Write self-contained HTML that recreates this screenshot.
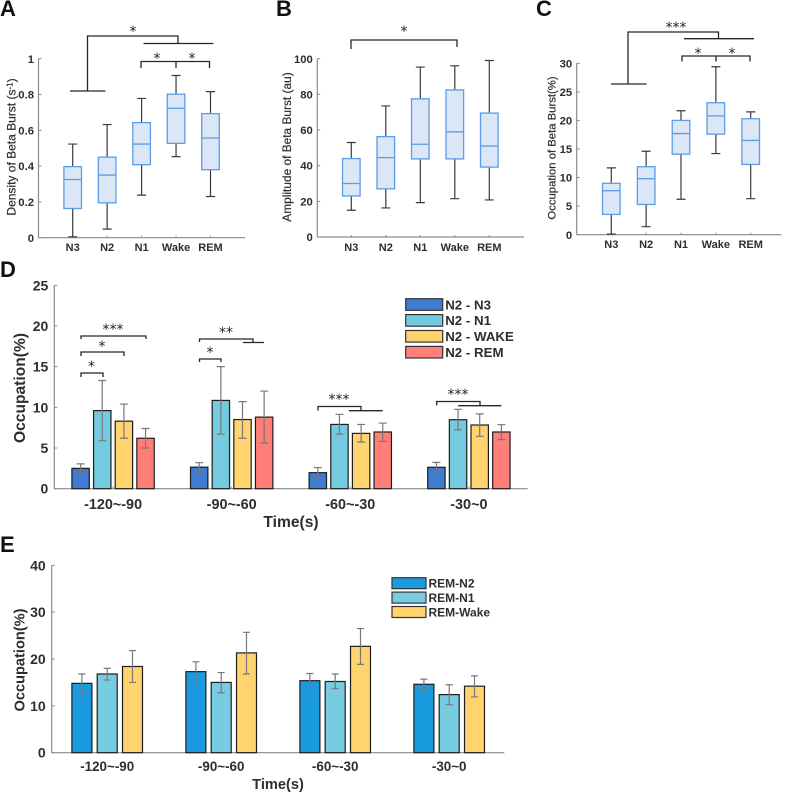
<!DOCTYPE html>
<html>
<head>
<meta charset="utf-8">
<title>Beta burst charts</title>
<style>
html,body{margin:0;padding:0;background:#fff;}
#fig{display:block;width:787px;height:792px;font-family:"Liberation Sans",sans-serif;filter:blur(0.3px);}
.ann{fill:none;stroke:#262626;stroke-width:1.3;}
.star{font-size:14px;fill:#222;text-anchor:middle;font-family:"DejaVu Sans","Liberation Sans",sans-serif;}
.letter{font-size:22px;font-weight:bold;fill:#111;}
</style>
</head>
<body>
<svg id="fig" xmlns="http://www.w3.org/2000/svg" width="787" height="792" viewBox="0 0 787 792">
<rect x="0" y="0" width="787" height="792" fill="#fff"/>
<text class="letter" x="0" y="16">A</text>
<text class="letter" x="276" y="16">B</text>
<text class="letter" x="536" y="16">C</text>
<text class="letter" x="0" y="277">D</text>
<text class="letter" x="0" y="552">E</text>

<g>
<path class="ann" d="M87.5 91V36H178V43M143.5 43.5H213.5M70 91H105.5"/>
<path class="ann" d="M141 68V61.5H209.5V68M176 61.5V68"/>
<text class="star" x="133" y="36">*</text>
<text class="star" x="157" y="63">*</text>
<text class="star" x="192" y="63">*</text>
</g>
<g>
<path class="ann" d="M351 49V40H457V47"/>
<text class="star" x="404" y="36">*</text>
</g>
<g>
<path class="ann" d="M628 84V32H718.5V38M684 38.7H754M611 84H646.5"/>
<path class="ann" d="M682 61.5V56H750V61.5M716 56V61.5"/>
<text class="star" x="676" y="32">***</text>
<text class="star" x="698" y="58">*</text>
<text class="star" x="732" y="58">*</text>
</g>
<g>
<path class="ann" d="M81 377V373H103V377M81 356V352H124V356M81 339V336H146V339"/>
<path class="ann" d="M199.5 362V359H221V362M199.5 342V339H253V342M243 342.5H264"/>
<path class="ann" d="M318 410.5V406.5H361V410.5M349 410.7H382.7"/>
<path class="ann" d="M436.7 405.5V401.5H480V405.5M458.3 405.7H501.3"/>
<text class="star" x="91.5" y="371">*</text>
<text class="star" x="102" y="351">*</text>
<text class="star" x="113" y="334">***</text>
<text class="star" x="210" y="357">*</text>
<text class="star" x="226" y="337">**</text>
<text class="star" x="339" y="404">***</text>
<text class="star" x="458" y="399">***</text>
</g>
<g id="plots"></g>
</svg>
<script>
// Panel A: density of beta burst
const stageCategories = ['N3', 'N2', 'N1', 'Wake', 'REM'];
const densityTicks = [0, 0.2, 0.4, 0.6, 0.8, 1];
const densityTickLabels = ['0', '0.2', '0.4', '0.6', '0.8', '1'];
const densityLow = [0.005, 0.048, 0.238, 0.453, 0.23];
const densityQ1 = [0.163, 0.195, 0.408, 0.527, 0.38];
const densityMedian = [0.325, 0.35, 0.523, 0.723, 0.557];
const densityQ3 = [0.397, 0.45, 0.643, 0.802, 0.693];
const densityHigh = [0.523, 0.632, 0.778, 0.906, 0.816];
// Panel B: amplitude of beta burst
const amplitudeTicks = [0, 20, 40, 60, 80, 100];
const amplitudeLow = [15, 16.3, 19.3, 21.5, 20.8];
const amplitudeQ1 = [23, 27, 43.8, 43.8, 39.2];
const amplitudeMedian = [30, 44.5, 52, 59, 51];
const amplitudeQ3 = [44, 56.3, 77.5, 82.5, 69.5];
const amplitudeHigh = [53, 73.5, 95.3, 96, 99];
// Panel C: occupation of beta burst
const occupationTicks = [0, 5, 10, 15, 20, 25, 30];
const occupationLow = [0.1, 1.4, 6.2, 14.2, 6.3];
const occupationQ1 = [3.55, 5.3, 14.1, 17.6, 12.3];
const occupationMedian = [7.7, 9.8, 17.7, 20.8, 16.5];
const occupationQ3 = [9, 11.9, 20, 23.1, 20.3];
const occupationHigh = [11.7, 14.6, 21.7, 29.4, 21.5];
// Panel D: transitions from N2
const timeCategoriesD = ['-120~-90', '-90~-60', '-60~-30', '-30~0'];
const dTicks = [0, 5, 10, 15, 20, 25];
const dN3Values = [2.5, 2.65, 1.97, 2.63];
const dN3Low = [2, 2, 1.3, 2.05];
const dN3High = [3.05, 3.2, 2.6, 3.24];
const dN1Values = [9.6, 10.85, 7.9, 8.48];
const dN1Low = [5.9, 6.7, 6.7, 7.25];
const dN1High = [13.3, 15, 9.14, 9.76];
const dWakeValues = [8.3, 8.5, 6.8, 7.83];
const dWakeLow = [6.2, 6.2, 5.74, 6.44];
const dWakeHigh = [10.4, 10.7, 7.9, 9.2];
const dRemValues = [6.2, 8.8, 6.97, 6.97];
const dRemLow = [5, 5.6, 5.82, 6.03];
const dRemHigh = [7.4, 12, 8.07, 7.87];
const dLegendLabels = ['N2 - N3', 'N2 - N1', 'N2 - WAKE', 'N2 - REM'];
// Panel E: transitions from REM
const timeCategoriesE = ['-120~-90', '-90~-60', '-60~-30', '-30~0'];
const eTicks = [0, 10, 20, 30, 40];
const eN2Values = [14.8, 17.3, 15.37, 14.6];
const eN2Low = [12.8, 15.2, 13.9, 13.3];
const eN2High = [16.8, 19.4, 16.9, 15.7];
const eN1Values = [16.8, 15, 15.2, 12.4];
const eN1Low = [15.5, 12.8, 13.66, 10.25];
const eN1High = [18, 17.1, 16.8, 14.5];
const eWakeValues = [18.4, 21.3, 22.7, 14.2];
const eWakeLow = [15, 16.8, 18.85, 11.9];
const eWakeHigh = [21.8, 25.7, 26.5, 16.4];
const eLegendLabels = ['REM-N2', 'REM-N1', 'REM-Wake'];

const NS = 'http://www.w3.org/2000/svg';
const root = document.getElementById('plots');
const AXIS = '#8a8a8a';
const TEXT = '#2e2e2e';

function mk(tag, attrs, parent) {
  const n = document.createElementNS(NS, tag);
  for (const k in attrs) n.setAttribute(k, attrs[k]);
  parent.appendChild(n);
  return n;
}
function linear(d1, r0, r1) {
  return v => r0 + (v / d1) * (r1 - r0);
}
function line(parent, x1, y1, x2, y2, stroke, width) {
  return mk('line', {x1: x1, y1: y1, x2: x2, y2: y2, stroke: stroke, 'stroke-width': width}, parent);
}
function label(parent, str, x, y, size, anchor, bold) {
  const t = mk('text', {x: x, y: y, 'font-size': size, 'text-anchor': anchor, fill: TEXT, 'font-weight': bold ? 'bold' : 'normal'}, parent);
  t.textContent = str;
  return t;
}

function drawAxes(g, a, ticks, tickLabels, y, centers, cats) {
  const xAxis = line(g, a.left, a.y0, a.right, a.y0, AXIS, 1.2);
  
  
  const yAxis = line(g, a.left, a.y0, a.left, a.yTop, AXIS, 1.2);
  
  
  ticks.forEach((v, i) => {
    const tk = line(g, a.left, y(v), a.left + 3, y(v), AXIS, 1);
    
    
    const tl = label(g, tickLabels[i], a.left - a.tickGap, y(v) + a.tickSize * 0.36, a.tickSize, 'end', true);
    
    
  });
  cats.forEach((c, i) => {
    const tk = line(g, centers(i), a.y0, centers(i), a.y0 - 2, AXIS, 1);
    
    
    const tl = label(g, c, centers(i), a.xLabelY, a.xSize, 'middle', true);
    
    
  });
}

function yTitle(g, str, x, y, size, bold) {
  const t = label(g, str, 0, 0, size, 'middle', bold);
  t.setAttribute('transform', 'translate(' + x + ' ' + y + ') rotate(-90)');
  if (!bold) { t.setAttribute('stroke', TEXT); t.setAttribute('stroke-width', '0.2'); }
  
  
  return t;
}

function boxPanel(name, a, ticks, tickLabels, low, q1, med, q3, high) {
  const g = mk('g', {}, root);
  
  
  const y = linear(ticks[ticks.length - 1], a.y0, a.yTop);
  const cx = i => a.first + i * a.step;
  drawAxes(g, a, ticks, tickLabels, y, cx, stageCategories);
  stageCategories.forEach((c, i) => {
    const whisker = mk('path', {
      d: 'M' + (cx(i) - 4.5) + ' ' + y(high[i]) + 'H' + (cx(i) + 4.5) + 'M' + cx(i) + ' ' + y(high[i]) + 'V' + y(low[i]) + 'M' + (cx(i) - 4.5) + ' ' + y(low[i]) + 'H' + (cx(i) + 4.5),
      fill: 'none', stroke: '#3a3a3a', 'stroke-width': 1.2}, g);
    
    
    const box = mk('rect', {x: cx(i) - 8.8, y: y(q3[i]), width: 17.6, height: y(q1[i]) - y(q3[i]), fill: '#dbe6f6', stroke: '#5c9ce8', 'stroke-width': 1.3}, g);
    
    
    const m = line(g, cx(i) - 8.8, y(med[i]), cx(i) + 8.8, y(med[i]), '#5c9ce8', 1.3);
    
    
  });
  return g;
}

function barPanel(name, a, ticks, cats, series) {
  const g = mk('g', {}, root);
  
  
  const y = linear(ticks[ticks.length - 1], a.y0, a.yTop);
  const groupCenter = i => a.first + i * a.groupStep + ((series.length - 1) * a.barStep + a.barW) / 2;
  drawAxes(g, a, ticks, ticks.map(String), y, groupCenter, cats);
  cats.forEach((c, i) => {
    series.forEach((s, j) => {
      const x = a.first + i * a.groupStep + j * a.barStep;
      const bar = mk('rect', {x: x, y: y(s.values[i]), width: a.barW, height: a.y0 - y(s.values[i]), fill: s.color, stroke: '#1d1d1d', 'stroke-width': 1.2}, g);
      
      
      const c0 = x + a.barW / 2;
      const err = mk('path', {
        d: 'M' + (c0 - a.cap) + ' ' + y(s.high[i]) + 'H' + (c0 + a.cap) + 'M' + c0 + ' ' + y(s.high[i]) + 'V' + y(s.low[i]) + 'M' + (c0 - a.cap) + ' ' + y(s.low[i]) + 'H' + (c0 + a.cap),
        fill: 'none', stroke: '#787878', 'stroke-width': 1.2}, g);
      
      
    });
  });
  return g;
}

function legend(g, labels, colors, l) {
  labels.forEach((t, i) => {
    const sw = mk('rect', {x: l.x, y: l.y + i * l.step, width: l.w, height: l.h, fill: colors[i], stroke: '#333', 'stroke-width': 1.2}, g);
    
    
    const tx = label(g, t, l.x + l.w + 2.5, l.y + i * l.step + l.h / 2 + l.size * 0.36, l.size, 'start', true);
    
    
  });
}

const gA = boxPanel('density-panel', {left: 38.5, right: 245, y0: 237.7, yTop: 58.7, first: 72.7, step: 34.45, tickSize: 11.3, tickGap: 4.5, xSize: 11, xLabelY: 251}, densityTicks, densityTickLabels, densityLow, densityQ1, densityMedian, densityQ3, densityHigh);
const titleA = yTitle(gA, 'Density of Beta Burst (s', 15.5, 147, 12, false);
const titleASup = mk('tspan', {dy: -3, 'font-size': 8}, titleA);
titleASup.textContent = '-1';
const titleAEnd = mk('tspan', {dy: 3}, titleA);
titleAEnd.textContent = ')';

const gB = boxPanel('amplitude-panel', {left: 317.3, right: 524, y0: 237, yTop: 58.7, first: 351.3, step: 34.5, tickSize: 11.3, tickGap: 4.5, xSize: 11, xLabelY: 251}, amplitudeTicks, amplitudeTicks.map(String), amplitudeLow, amplitudeQ1, amplitudeMedian, amplitudeQ3, amplitudeHigh);
yTitle(gB, 'Amplitude of Beta Burst (au)', 291, 147, 11.9, false);

const gC = boxPanel('occupation-panel', {left: 576.7, right: 781.7, y0: 234.7, yTop: 63.3, first: 611.3, step: 34.85, tickSize: 11.3, tickGap: 4.5, xSize: 11, xLabelY: 248}, occupationTicks, occupationTicks.map(String), occupationLow, occupationQ1, occupationMedian, occupationQ3, occupationHigh);
yTitle(gC, 'Occupation of Beta Burst(%)', 555.5, 148, 11.3, false);

const dColors = ['#3f7bd1', '#74cbe0', '#ffd36e', '#ff7f78'];
const gD = barPanel('n2-transition-panel', {left: 54.3, right: 527.7, y0: 488.7, yTop: 285.3, first: 71.9, groupStep: 118.6, barStep: 21.65, barW: 17.4, cap: 4, tickSize: 14, tickGap: 6, xSize: 14.4, xLabelY: 509}, dTicks, timeCategoriesD, [
  {values: dN3Values, low: dN3Low, high: dN3High, color: dColors[0]},
  {values: dN1Values, low: dN1Low, high: dN1High, color: dColors[1]},
  {values: dWakeValues, low: dWakeLow, high: dWakeHigh, color: dColors[2]},
  {values: dRemValues, low: dRemLow, high: dRemHigh, color: dColors[3]}
]);
yTitle(gD, 'Occupation(%)', 25, 388, 15.6, true);
const xTitleD = label(gD, 'Time(s)', 291, 527, 15.6, 'middle', true);


legend(gD, dLegendLabels, dColors, {x: 405.7, y: 298.7, w: 37, h: 11.6, step: 15.9, size: 13.3});

const eColors = ['#1a9be0', '#78cce2', '#ffd36e'];
const gE = barPanel('rem-transition-panel', {left: 51.7, right: 504.3, y0: 752.7, yTop: 565.3, first: 71.9, groupStep: 114, barStep: 25.3, barW: 20, cap: 3.5, tickSize: 14, tickGap: 6, xSize: 13.4, xLabelY: 771}, eTicks, timeCategoriesE, [
  {values: eN2Values, low: eN2Low, high: eN2High, color: eColors[0]},
  {values: eN1Values, low: eN1Low, high: eN1High, color: eColors[1]},
  {values: eWakeValues, low: eWakeLow, high: eWakeHigh, color: eColors[2]}
]);
yTitle(gE, 'Occupation(%)', 24.5, 660, 14.6, true);
const xTitleE = label(gE, 'Time(s)', 278, 789, 14.6, 'middle', true);


legend(gE, eLegendLabels, eColors, {x: 392, y: 577.7, w: 34, h: 11, step: 14.4, size: 12});
</script>
</body>
</html>
